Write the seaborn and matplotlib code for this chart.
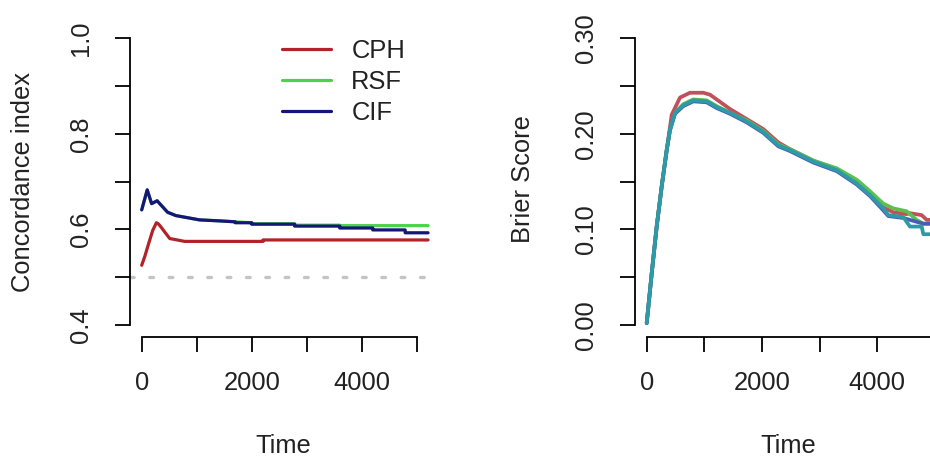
import numpy as np
import pandas as pd
import matplotlib
matplotlib.use('Agg')
import matplotlib.pyplot as plt
import seaborn as sns

# concordance index over time (left panel)
cph_time = [0, 60, 130, 200, 267, 300, 358, 449, 509, 600, 782, 2205, 2205, 5206]
cph_cindex = [0.525, 0.545, 0.572, 0.598, 0.614, 0.612, 0.604, 0.590, 0.581, 0.579, 0.575, 0.575, 0.578, 0.578]

rsf_time = [0, 100, 180, 280, 470, 620, 860, 1050, 1400, 1700, 2000, 2000, 2780, 2780, 3600, 3600, 4200, 5206]
rsf_cindex = [0.641, 0.682, 0.654, 0.660, 0.636, 0.629, 0.624, 0.620, 0.618, 0.616, 0.614, 0.612, 0.612, 0.609, 0.609, 0.608, 0.608, 0.608]

cif_time = [0, 100, 180, 280, 470, 620, 860, 1050, 1400, 1700, 1700, 2000, 2000, 2780, 2780, 3600, 3600, 4200, 4200, 4790, 4790, 5206]
cif_cindex = [0.641, 0.683, 0.654, 0.660, 0.636, 0.629, 0.624, 0.620, 0.618, 0.616, 0.614, 0.614, 0.611, 0.611, 0.607, 0.607, 0.603, 0.603, 0.599, 0.599, 0.593, 0.593]

# brier score over time (right panel)
cph_bs_time = [0, 87, 173, 260, 347, 434, 578, 751, 982, 1098, 1445, 2023, 2283, 2486, 2890, 3296, 3643, 3873, 4104, 4278, 4509, 4567, 4770, 4857, 5000]
cph_bs = [0.002, 0.054, 0.103, 0.145, 0.183, 0.220, 0.238, 0.243, 0.243, 0.241, 0.226, 0.205, 0.191, 0.184, 0.172, 0.163, 0.149, 0.137, 0.123, 0.118, 0.116, 0.117, 0.115, 0.110, 0.110]

rsf_bs_time = [0, 87, 173, 260, 347, 404, 491, 635, 808, 1040, 1214, 1445, 1735, 2023, 2283, 2486, 2890, 3296, 3643, 3873, 4104, 4278, 4509, 4683, 4799, 5000]
rsf_bs = [0.002, 0.054, 0.103, 0.145, 0.183, 0.204, 0.222, 0.231, 0.236, 0.235, 0.229, 0.222, 0.214, 0.203, 0.189, 0.184, 0.172, 0.164, 0.152, 0.140, 0.127, 0.122, 0.119, 0.110, 0.106, 0.106]

cif_bs_time = [0, 87, 173, 260, 347, 404, 491, 635, 808, 1040, 1214, 1445, 1735, 2023, 2283, 2486, 2890, 3296, 3643, 3873, 4104, 4191, 4451, 4567, 4799, 5000]
cif_bs = [0.002, 0.054, 0.103, 0.145, 0.183, 0.204, 0.221, 0.229, 0.234, 0.233, 0.227, 0.221, 0.212, 0.201, 0.187, 0.182, 0.170, 0.161, 0.147, 0.135, 0.120, 0.114, 0.112, 0.110, 0.106, 0.106]

ref_bs_time = [0, 87, 173, 260, 347, 404, 491, 635, 808, 1040, 1214, 1445, 1735, 2023, 2283, 2486, 2890, 3296, 3643, 3873, 4104, 4191, 4451, 4567, 4770, 4799, 5000]
ref_bs = [0.002, 0.054, 0.103, 0.145, 0.183, 0.204, 0.222, 0.230, 0.235, 0.234, 0.228, 0.222, 0.213, 0.202, 0.188, 0.183, 0.171, 0.162, 0.148, 0.136, 0.122, 0.115, 0.113, 0.103, 0.103, 0.095, 0.095]

cidx_colors = {'CPH': '#B22228', 'RSF': '#4ED24E', 'CIF': '#16167A'}
bs_colors = {'CPH': '#C0505A', 'RSF': '#5CC050', 'CIF': '#4A5CB8', 'Reference': '#2E9AA6'}

cidx_df = pd.concat([
    pd.DataFrame({'time': cph_time, 'cindex': cph_cindex, 'model': 'CPH'}),
    pd.DataFrame({'time': rsf_time, 'cindex': rsf_cindex, 'model': 'RSF'}),
    pd.DataFrame({'time': cif_time, 'cindex': cif_cindex, 'model': 'CIF'}),
], ignore_index=True)

bs_df = pd.concat([
    pd.DataFrame({'time': cph_bs_time, 'brier': cph_bs, 'model': 'CPH'}),
    pd.DataFrame({'time': rsf_bs_time, 'brier': rsf_bs, 'model': 'RSF'}),
    pd.DataFrame({'time': cif_bs_time, 'brier': cif_bs, 'model': 'CIF'}),
    pd.DataFrame({'time': ref_bs_time, 'brier': ref_bs, 'model': 'Reference'}),
], ignore_index=True)

sns.set_theme(style='white')
plt.rcParams['font.family'] = ['Liberation Sans', 'DejaVu Sans']
txt = '#222222'
fs = 18.4

fig = plt.figure(figsize=(9.3, 4.61), dpi=100)
ax1 = fig.add_axes([130/930, (461-336.5)/461, 303/930, 309.7/461])
ax2 = fig.add_axes([635/930, (461-336.5)/461, 305/930, 309.7/461])

# left: concordance index
ax1.axhline(0.5, color='#C4C4C4', linewidth=2.4, linestyle=(0, (1.1, 4.7)),
            dash_capstyle='round', zorder=1)
sns.lineplot(data=cidx_df, x='time', y='cindex', hue='model', palette=cidx_colors,
             estimator=None, sort=False, linewidth=2.3, ax=ax1)
ax1.set_xlim(-213, 5296)
ax1.set_ylim(0.376, 1.024)
ax1.set_yticks(np.arange(0.4, 1.01, 0.1))
ax1.set_yticklabels(['0.4', '', '0.6', '', '0.8', '', '1.0'])
ax1.legend(loc='upper left', bbox_to_anchor=(0.5, 0.96), frameon=False, fontsize=fs,
           handlelength=1.95, handletextpad=0.78, labelspacing=0.27,
           borderpad=0, borderaxespad=0, labelcolor=txt)

# right: brier score
sns.lineplot(data=bs_df, x='time', y='brier', hue='model', palette=bs_colors,
             estimator=None, sort=False, linewidth=2.7, legend=False, ax=ax2)
ax2.set_xlim(-203, 5088)
ax2.set_ylim(-0.012, 0.312)
ax2.set_yticks(np.arange(0, 0.301, 0.05))
ax2.set_yticklabels(['0.00', '', '0.10', '', '0.20', '', '0.30'])

for ax in (ax1, ax2):
    ax.set_xticks(np.arange(0, 5001, 1000))
    ax.set_xticklabels(['0', '', '2000', '', '4000', ''])
    ax.set_xlabel('')
    ax.set_ylabel('')
    sns.despine(ax=ax)
    ax.spines['left'].set_bounds(ax.get_yticks()[0], ax.get_yticks()[-1])
    ax.spines['bottom'].set_bounds(0, 5000)
    for s in ('left', 'bottom'):
        ax.spines[s].set_color('black')
        ax.spines[s].set_linewidth(1.3)
    ax.tick_params(axis='both', direction='out', length=10.8, width=1.3, color='black',
                   labelsize=fs, labelcolor=txt, pad=14, left=True, bottom=True)
    ax.tick_params(axis='y', labelrotation=90, pad=16)
    for lab in ax.get_yticklabels():
        lab.set_va('center')

fig.text(23/930, 1 - 182/461, 'Concordance index', rotation=90, ha='center', va='center', fontsize=fs, color=txt)
fig.text(523/930, 1 - 179/461, 'Brier Score', rotation=90, ha='center', va='center', fontsize=fs, color=txt)
fig.text(283/930, 1 - 446/461, 'Time', ha='center', va='center', fontsize=fs, color=txt)
fig.text(788/930, 1 - 446/461, 'Time', ha='center', va='center', fontsize=fs, color=txt)

fig.savefig('out.png', dpi=100, facecolor='white')
